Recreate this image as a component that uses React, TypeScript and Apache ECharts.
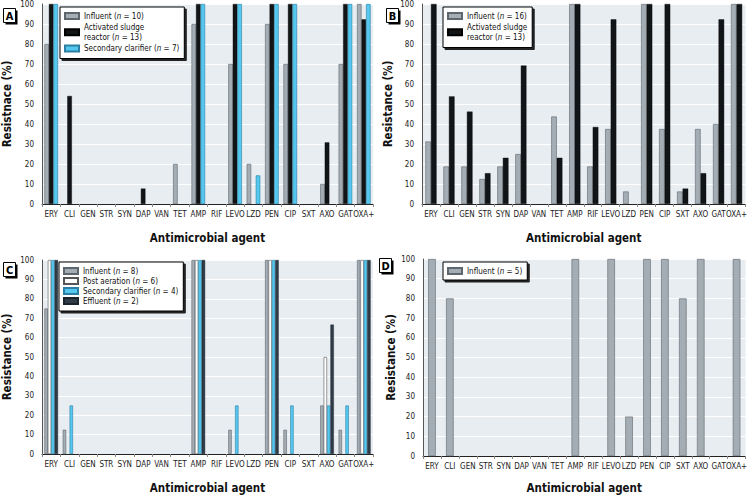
import React, { useEffect, useRef } from "react";
import * as echarts from "echarts";

const categories = ["ERY", "CLI", "GEN", "STR", "SYN", "DAP", "VAN", "TET", "AMP", "RIF", "LEVO", "LZD", "PEN", "CIP", "SXT", "AXO", "GAT", "OXA+"];
const yTicks = [0, 10, 20, 30, 40, 50, 60, 70, 80, 90, 100];

// Panel A
const aInfluent = [80, 0, 0, 0, 0, 0, 0, 20, 90, 0, 70, 20, 90, 70, 0, 10, 70, 100];
const aSludge = [100, 54, 0, 0, 0, 7.7, 0, 0, 100, 0, 100, 0, 100, 100, 0, 30.8, 100, 92.3];
const aClarifier = [100, 0, 0, 0, 0, 0, 0, 0, 100, 0, 100, 14.3, 100, 100, 0, 0, 100, 100];
// Panel B
const bInfluent = [31.25, 18.75, 18.75, 12.5, 18.75, 25, 0, 43.75, 100, 18.75, 37.5, 6.25, 100, 37.5, 6.25, 37.5, 40, 100];
const bSludge = [100, 53.8, 46.2, 15.4, 23.1, 69.2, 0, 23.1, 100, 38.5, 92.3, 0, 100, 100, 7.7, 15.4, 92.3, 100];
// Panel C
const cInfluent = [75, 12.5, 0, 0, 0, 0, 0, 0, 100, 0, 12.5, 0, 100, 12.5, 0, 25, 12.5, 100];
const cPost = [100, 0, 0, 0, 0, 0, 0, 0, 100, 0, 0, 0, 100, 0, 0, 50, 0, 100];
const cClarifier = [100, 25, 0, 0, 0, 0, 0, 0, 100, 0, 25, 0, 100, 25, 0, 25, 25, 100];
const cEffluent = [100, 0, 0, 0, 0, 0, 0, 0, 100, 0, 0, 0, 100, 0, 0, 66.7, 0, 100];
// Panel D
const dInfluent = [100, 80, 0, 0, 0, 0, 0, 0, 100, 0, 100, 20, 100, 100, 80, 100, 0, 100];

const FONT = "'DejaVu Sans Condensed', 'Liberation Sans Narrow', sans-serif";

const COL = {
  influent: { color: "#a4adb4", borderColor: "#5e676d", borderWidth: 0.6 },
  sludge: { color: "#121517", borderColor: "#000", borderWidth: 0.4 },
  clarifier: { color: "#55c8f0", borderColor: "#2b7fa3", borderWidth: 0.6 },
  post: { color: "#ffffff", borderColor: "#555", borderWidth: 0.6 },
  effluent: { color: "#2f3b46", borderColor: "#1c242b", borderWidth: 0.4 },
};

const nz = (arr: number[]) => arr.map((v) => (v === 0 ? null : v));

function legendFormatter(name: string) {
  const idx = name.indexOf("(n");
  let pre = name.slice(0, idx + 1);
  const post = name.slice(idx + 2);
  if (pre.startsWith("Activated sludge reactor")) {
    pre = pre.replace("Activated sludge reactor", "reactor");
    return `{a|Activated sludge}\n{a|${pre}}{i|n}{a|${post}}`;
  }
  return `{a|${pre}}{i|n}{a|${post}}`;
}

const grids = [
  { left: 38, top: 4, width: 335, height: 200 },
  { left: 422, top: 4, width: 326, height: 200 },
  { left: 38, top: 260, width: 335, height: 200 },
  { left: 423, top: 259, width: 326, height: 202 },
];

const yNames = ["Resistnace (%)", "Resistance (%)", "Resistance (%)", "Resistance (%)"];
const yNameGaps = [29, 28, 29, 26];
const xNameGaps = [28, 28, 28, 26];

export default function App() {
  const ref = useRef<HTMLDivElement>(null);
  useEffect(() => {
    if (!ref.current) return;
    const chart = echarts.init(ref.current, null, { renderer: "svg" });

    const mkBar = (name: string, data: number[], idx: number, style: any, gapPct: string) => ({
      type: "bar",
      name,
      xAxisIndex: idx,
      yAxisIndex: idx,
      data: nz(data),
      barGap: "0%",
      barCategoryGap: gapPct,
      itemStyle: style,
      emphasis: { disabled: true },
    });

    const series = [
      mkBar("Influent (n = 10)", aInfluent, 0, COL.influent, "26%"),
      mkBar("Activated sludge reactor (n = 13)", aSludge, 0, COL.sludge, "26%"),
      mkBar("Secondary clarifier (n = 7)", aClarifier, 0, COL.clarifier, "26%"),
      mkBar("Influent (n = 16)", bInfluent, 1, COL.influent, "38%"),
      mkBar("Activated sludge reactor (n = 13)", bSludge, 1, COL.sludge, "38%"),
      mkBar("Influent (n = 8)", cInfluent, 2, COL.influent, "26%"),
      mkBar("Post aeration (n = 6)", cPost, 2, COL.post, "26%"),
      mkBar("Secondary clarifier (n = 4)", cClarifier, 2, COL.clarifier, "26%"),
      mkBar("Effluent (n = 2)", cEffluent, 2, COL.effluent, "26%"),
      mkBar("Influent (n = 5)", dInfluent, 3, COL.influent, "58%"),
    ];

    const legendBase = {
      orient: "vertical",
      icon: "rect",
      itemWidth: 14,
      itemHeight: 6,
      itemGap: 3,
      backgroundColor: "#fff",
      borderColor: "#000",
      borderWidth: 1,
      shadowColor: "rgba(0,0,0,0.85)",
      shadowBlur: 0,
      shadowOffsetX: 2,
      shadowOffsetY: 2,
      selectedMode: false,
      formatter: legendFormatter,
      textStyle: {
        fontFamily: FONT,
        fontSize: 8,
        color: "#111",
        rich: {
          a: { fontFamily: FONT, fontSize: 8, color: "#111", lineHeight: 10.5 },
          i: { fontFamily: FONT, fontSize: 8, color: "#111", fontStyle: "italic", lineHeight: 10.5 },
        },
      },
    };

    const legends = [
      { ...legendBase, left: 60, top: 7, padding: [5, 5, 6, 4], data: ["Influent (n = 10)", "Activated sludge reactor (n = 13)", "Secondary clarifier (n = 7)"] },
      { ...legendBase, left: 443, top: 7, padding: [5, 5, 6, 4], data: ["Influent (n = 16)", "Activated sludge reactor (n = 13)"] },
      { ...legendBase, left: 59, top: 262, itemGap: 2, padding: [5, 5, 6, 4], data: ["Influent (n = 8)", "Post aeration (n = 6)", "Secondary clarifier (n = 4)", "Effluent (n = 2)"] },
      { ...legendBase, left: 443, top: 262, padding: [5, 5, 5, 4], data: ["Influent (n = 5)"] },
    ];

    const letters = ["A", "B", "C", "D"];
    const letterPos = [
      [3, 8],
      [386, 8],
      [3, 262],
      [379, 258],
    ];
    const graphic = letters.map((L, i) => ({
      type: "group",
      left: letterPos[i][0],
      top: letterPos[i][1],
      children: [
        { type: "rect", shape: { x: 2, y: 2, width: 12, height: 14 }, style: { fill: "#000" } },
        { type: "rect", shape: { x: 0, y: 0, width: 12, height: 14 }, style: { fill: "#fff", stroke: "#000", lineWidth: 1 } },
        {
          type: "text",
          x: 6,
          y: 7.5,
          style: { text: L, fontFamily: FONT, fontWeight: "bold", fontSize: 11, fill: "#000", textAlign: "center", textVerticalAlign: "middle" },
        },
      ],
    }));

    chart.setOption({
      animation: false,
      textStyle: { fontFamily: FONT },
      grid: grids.map((g) => ({ ...g, show: true, backgroundColor: "#e8edf2", borderWidth: 0, containLabel: false })),
      legend: legends,
      graphic,
      xAxis: grids.map((_, i) => ({
        type: "category",
        gridIndex: i,
        data: categories,
        name: "Antimicrobial agent",
        nameLocation: "middle",
        nameGap: xNameGaps[i],
        nameTextStyle: { fontFamily: FONT, fontWeight: "bold", fontSize: 11.5, color: "#111" },
        axisLine: { show: true, lineStyle: { color: "#222", width: 1 } },
        axisTick: { show: true, length: 3, lineStyle: { color: "#888" } },
        axisLabel: { fontFamily: FONT, fontSize: 8, color: "#222", margin: 6, interval: 0 },
        splitLine: { show: false },
      })),
      yAxis: grids.map((_, i) => ({
        type: "value",
        gridIndex: i,
        min: yTicks[0],
        max: yTicks[yTicks.length - 1],
        interval: 10,
        name: yNames[i],
        nameLocation: "middle",
        nameGap: yNameGaps[i],
        nameRotate: 90,
        nameTextStyle: { fontFamily: FONT, fontWeight: "bold", fontSize: 11.5, color: "#111" },
        axisLine: { show: true, lineStyle: { color: "#555", width: 1 } },
        axisTick: { show: false },
        axisLabel: { fontFamily: FONT, fontSize: 8, color: "#222", margin: 8 },
        splitLine: { show: true, lineStyle: { color: "#ffffff", width: 1 } },
      })),
      series,
    });
    return () => chart.dispose();
  }, []);
  return <div ref={ref} style={{ position: "fixed", left: 0, top: 0, width: 750, height: 495, background: "#fff" }} />;
}
